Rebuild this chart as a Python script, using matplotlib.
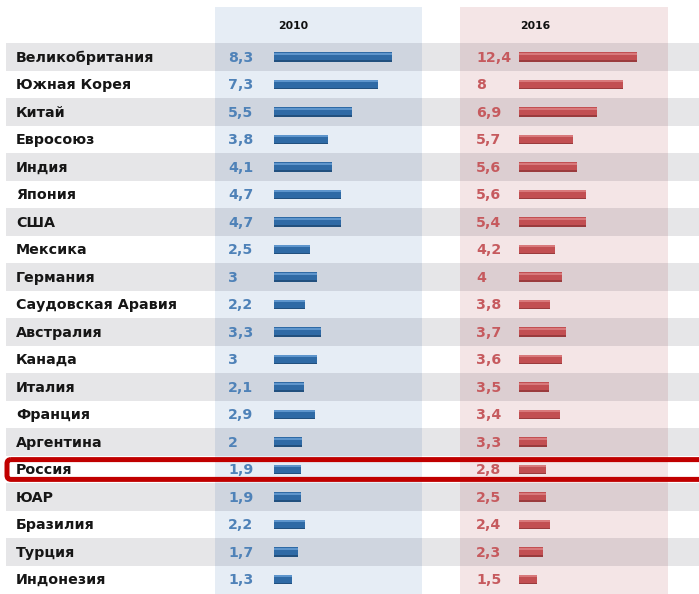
import matplotlib
matplotlib.use("Agg")
import matplotlib.pyplot as plt
from matplotlib.patches import FancyBboxPatch

plt.rcParams["font.family"] = ["DejaVu Sans"]

#------------------------------------------------------------------------------
countries = [
    "Великобритания", "Южная Корея", "Китай", "Евросоюз", "Индия", "Япония",
    "США", "Мексика", "Германия", "Саудовская Аравия", "Австралия", "Канада",
    "Италия", "Франция", "Аргентина", "Россия", "ЮАР", "Бразилия", "Турция",
    "Индонезия",
]
values_2010 = [8.3, 7.3, 5.5, 3.8, 4.1, 4.7, 4.7, 2.5, 3, 2.2, 3.3, 3, 2.1,
               2.9, 2, 1.9, 1.9, 2.2, 1.7, 1.3]
values_2016 = [12.4, 8, 6.9, 5.7, 5.6, 5.6, 5.4, 4.2, 4, 3.8, 3.7, 3.6, 3.5,
               3.4, 3.3, 2.8, 2.5, 2.4, 2.3, 1.5]
years = ["2010", "2016"]
highlight = "Россия"

# NB: in the original graphic the 2016 bars are sized by the 2010 figures
# (only the labels differ), so both panels reuse values_2010 for bar length.
bar_lengths_2016 = values_2010

#------------------------------------------------------------------------------
W, H = 699, 594
fig = plt.figure(figsize=(W / 100, H / 100), dpi=100)

rows = list(range(len(countries)))
row0_px, pitch_px = 57, 27.5
y_top = (0 - row0_px) / pitch_px
y_bot = (H - row0_px) / pitch_px


def fmt(v):
    return f"{v:g}".replace(".", ",")


# background: panels, stripes, names
bg = fig.add_axes([0, 0, 1, 1])
bg.set_xlim(0, W)
bg.set_ylim(y_bot, y_top)
bg.axis("off")

panel_top = 1 - 7 / H
bg.axvspan(215, 422, 0, panel_top, color="#e6edf5", lw=0, zorder=0)
bg.axvspan(460, 668, 0, panel_top, color="#f4e5e6", lw=0, zorder=0)

even_rows = [r for r in rows if r % 2 == 0]
bg.barh(even_rows, W - 6, left=6, height=1.0, color="#0a0a1e",
        alpha=0.1, lw=0, zorder=1)

header_y = (25 - row0_px) / pitch_px
bg.text(293, header_y, years[0], ha="center", va="center_baseline",
        fontsize=7.8, fontweight="bold", color="#111111")
bg.text(535, header_y, years[1], ha="center", va="center_baseline",
        fontsize=7.8, fontweight="bold", color="#111111")

for r, name in zip(rows, countries):
    bg.text(16, r - 0.03, name, ha="left", va="center_baseline",
            fontsize=10.3, fontweight="bold", color="#161616", zorder=3)
    bg.text(228, r - 0.03, fmt(values_2010[r]), ha="left",
            va="center_baseline", fontsize=10.2, fontweight="bold",
            color="#4f82b8", zorder=3)
    bg.text(476, r - 0.03, fmt(values_2016[r]), ha="left",
            va="center_baseline", fontsize=10.2, fontweight="bold",
            color="#c65a5e", zorder=3)

# highlight frame around Russia
hr = countries.index(highlight)
frame = FancyBboxPatch((7, hr - 0.36), W + 20, 0.72,
                       boxstyle="round,pad=0,rounding_size=4",
                       fill=False, ec="#c00000", lw=3.6, zorder=5,
                       mutation_aspect=1 / pitch_px)
bg.add_patch(frame)

#------------------------------------------------------------------------------
px_per_unit = 14.2


def bar_axes(left_px, right_px, lengths, main, light, dark):
    ax = fig.add_axes([left_px / W, 0, (right_px - left_px) / W, 1])
    ax.set_xlim(0, (right_px - left_px) / px_per_unit)
    ax.set_ylim(y_bot, y_top)
    ax.axis("off")
    ax.patch.set_alpha(0)
    ax.barh(rows, lengths, height=0.34, color=main, lw=0, zorder=2)
    ax.barh([r - 0.12 for r in rows], lengths, height=0.07, color=light,
            lw=0, zorder=3)
    ax.barh([r + 0.14 for r in rows], lengths, height=0.06, color=dark,
            lw=0, zorder=3)
    return ax


bar_axes(274, 422, values_2010, "#2f6aa5", "#5e95cc", "#22507e")
bar_axes(519, 668, bar_lengths_2016, "#c24f52", "#d8797b", "#9a3b3d")

fig.savefig("out.png", dpi=100)
